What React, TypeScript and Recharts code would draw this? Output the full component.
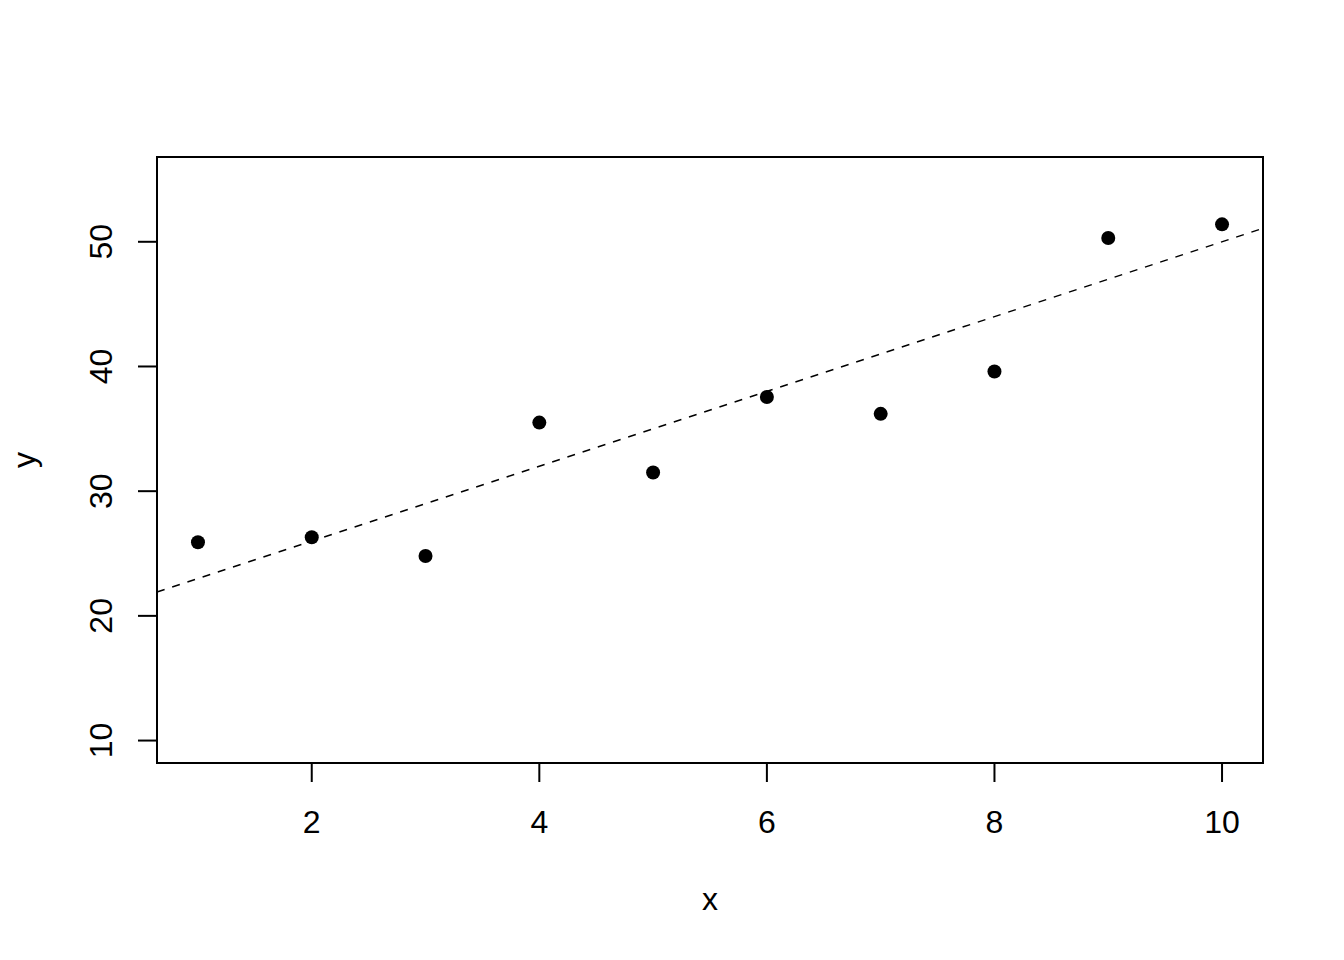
import React from "react";
import {
  ScatterChart,
  Scatter,
  XAxis,
  YAxis,
  ReferenceArea,
  ReferenceLine,
} from "recharts";

const xValues = [1, 2, 3, 4, 5, 6, 7, 8, 9, 10];
const yValues = [25.9, 26.3, 24.8, 35.5, 31.5, 37.55, 36.2, 39.6, 50.3, 51.4];
const xTicks = [2, 4, 6, 8, 10];
const yTicks = [10, 20, 30, 40, 50];

// abline(a, b)
const lineIntercept = 20;
const lineSlope = 3;

// R pads the range by 4% each side
const xDomain = [0.64, 10.36];
const yDomain = [8.2, 56.8];

const points = xValues.map((x, i) => ({ x, y: yValues[i] }));

const FONT = "'Liberation Sans', Arial, sans-serif";

const XTick = (props: any) => {
  const { x, y, payload } = props;
  return (
    <text x={x} y={y + 51} textAnchor="middle" fontFamily={FONT} fontSize={32} fill="#000">
      {payload.value}
    </text>
  );
};

const YTick = (props: any) => {
  const { x, y, payload } = props;
  return (
    <text
      transform={`translate(${x - 26},${y}) rotate(-90)`}
      textAnchor="middle"
      fontFamily={FONT}
      fontSize={32}
      fill="#000"
    >
      {payload.value}
    </text>
  );
};

const Dot = (props: any) => <circle cx={props.cx} cy={props.cy} r={7} fill="#000" />;

const XTitle = (props: any) => {
  const vb = props.viewBox;
  return (
    <text x={vb.x + vb.width / 2} y={910} textAnchor="middle" fontFamily={FONT} fontSize={32} fill="#000">
      x
    </text>
  );
};

const YTitle = (props: any) => {
  const vb = props.viewBox;
  return (
    <text
      transform={`translate(35,${vb.y + vb.height / 2}) rotate(-90)`}
      textAnchor="middle"
      fontFamily={FONT}
      fontSize={32}
      fill="#000"
    >
      y
    </text>
  );
};

const App = () => {
  return (
    <div style={{ position: "absolute", left: 0, top: 0, width: 1344, height: 960, background: "#fff" }}>
      <ScatterChart width={1344} height={960} margin={{ top: 157, right: 81, left: 0, bottom: 0 }}>
        <XAxis
          type="number"
          dataKey="x"
          domain={xDomain}
          ticks={xTicks}
          allowDataOverflow
          height={197}
          axisLine={false}
          tickSize={19}
          tickMargin={0}
          tickLine={{ stroke: "#000", strokeWidth: 2 }}
          tick={<XTick />}
          label={{ content: <XTitle /> }}
        />
        <YAxis
          type="number"
          dataKey="y"
          domain={yDomain}
          ticks={yTicks}
          allowDataOverflow
          width={157}
          axisLine={false}
          tickSize={19}
          tickMargin={0}
          tickLine={{ stroke: "#000", strokeWidth: 2 }}
          tick={<YTick />}
          label={{ content: <YTitle /> }}
        />
        <ReferenceArea
          x1={xDomain[0]}
          x2={xDomain[1]}
          y1={yDomain[0]}
          y2={yDomain[1]}
          fill="none"
          fillOpacity={0}
          stroke="#000"
          strokeWidth={2}
          ifOverflow="visible"
        />
        <ReferenceLine
          segment={[
            { x: xDomain[0], y: lineIntercept + lineSlope * xDomain[0] },
            { x: xDomain[1], y: lineIntercept + lineSlope * xDomain[1] },
          ]}
          stroke="#000"
          strokeWidth={1.5}
          strokeDasharray="8 8"
          ifOverflow="visible"
        />
        <Scatter data={points} fill="#000" shape={<Dot />} isAnimationActive={false} />
      </ScatterChart>
    </div>
  );
};

export default App;
